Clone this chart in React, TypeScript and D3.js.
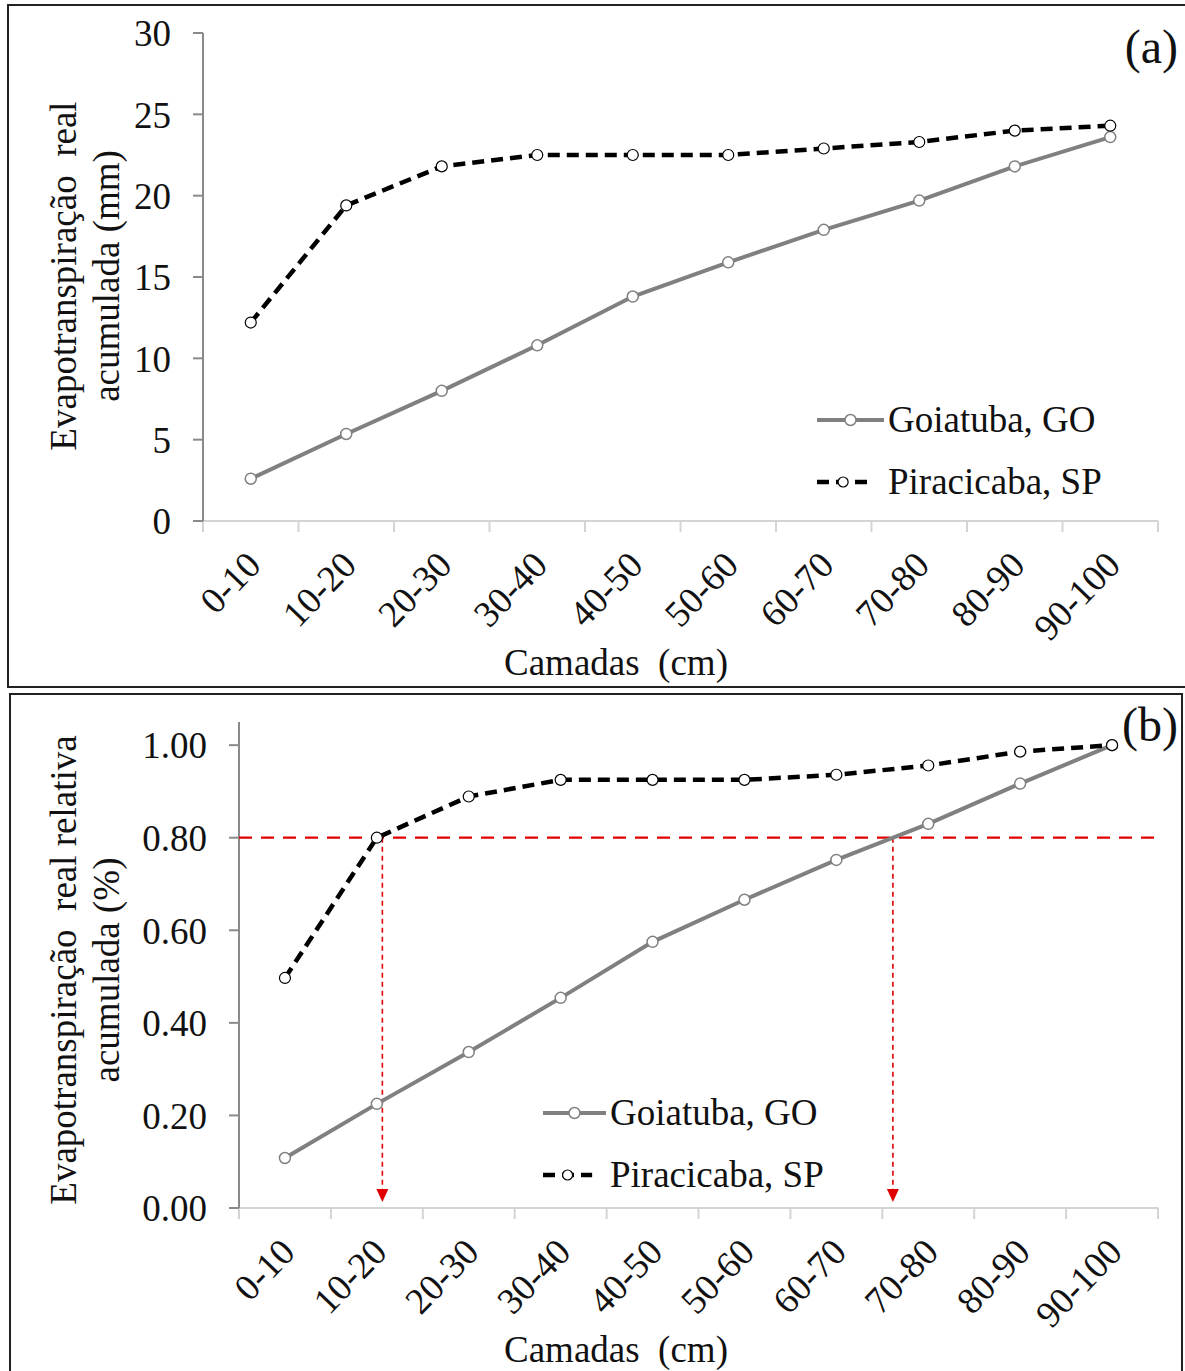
import React, { useRef, useEffect } from "react";
import * as d3 from "d3";

const layers = ["0-10", "10-20", "20-30", "30-40", "40-50", "50-60", "60-70", "70-80", "80-90", "90-100"];

// (a) evapotranspiração real acumulada (mm)
const goiatubaMm = [2.6, 5.35, 8.0, 10.8, 13.8, 15.9, 17.9, 19.7, 21.8, 23.6];
const piracicabaMm = [12.2, 19.4, 21.8, 22.5, 22.5, 22.5, 22.9, 23.3, 24.0, 24.3];

// (b) relativa acumulada
const goiatubaRel = [0.108, 0.225, 0.337, 0.454, 0.575, 0.666, 0.752, 0.83, 0.917, 1.0];
const piracicabaRel = [0.497, 0.8, 0.889, 0.925, 0.925, 0.925, 0.936, 0.956, 0.986, 1.0];

const ticksA = [0, 5, 10, 15, 20, 25, 30];
const ticksB = [0, 0.2, 0.4, 0.6, 0.8, 1.0];
const threshold = 0.8;

const FONT = "'Liberation Serif', 'Times New Roman', serif";
const GRAY = "#808080";

const W = 1185;
const H = 1371;

// interpolated index where a series reaches a value
function crossing(values, v) {
  for (let i = 0; i < values.length - 1; i++) {
    if (values[i] <= v && values[i + 1] >= v) {
      return i + (v - values[i]) / (values[i + 1] - values[i] || 1);
    }
  }
  return values.length - 1;
}

function drawPanel(svg, cfg) {
  const g = svg.append("g");
  const { box, left, right, yTop, yBottom, yDomain, ticks, fmt, goi, pir, label, titles, titleY, legend } = cfg;

  g.append("rect")
    .attr("x", box.x)
    .attr("y", box.y)
    .attr("width", box.w)
    .attr("height", box.h)
    .attr("fill", "white")
    .attr("stroke", "#222")
    .attr("stroke-width", 2);

  const x = d3.scaleLinear().domain([0, layers.length]).range([left, right]);
  const y = d3.scaleLinear().domain(yDomain).range([yBottom, yTop]);
  const cx = (i) => x(i + 0.5);

  // x axis
  g.append("line")
    .attr("x1", left)
    .attr("x2", right)
    .attr("y1", y(0))
    .attr("y2", y(0))
    .attr("stroke", "#d4d4d4")
    .attr("stroke-width", 2);
  g.selectAll(".xt")
    .data(d3.range(layers.length + 1))
    .join("line")
    .attr("x1", (d) => x(d))
    .attr("x2", (d) => x(d))
    .attr("y1", y(0))
    .attr("y2", y(0) + 11)
    .attr("stroke", "#d4d4d4")
    .attr("stroke-width", 2);

  g.selectAll(".xl")
    .data(layers)
    .join("text")
    .attr("transform", (d, i) => `translate(${cx(i) + 12},${y(0) + 46}) rotate(-46)`)
    .attr("text-anchor", "end")
    .attr("font-family", FONT)
    .attr("font-size", 37)
    .attr("fill", "#111")
    .text((d) => d);

  // y axis
  g.append("line")
    .attr("x1", left)
    .attr("x2", left)
    .attr("y1", y(yDomain[1]))
    .attr("y2", y(0))
    .attr("stroke", "#8a8a8a")
    .attr("stroke-width", 2);
  g.selectAll(".yt")
    .data(ticks)
    .join("line")
    .attr("x1", left - 10)
    .attr("x2", left)
    .attr("y1", (d) => y(d))
    .attr("y2", (d) => y(d))
    .attr("stroke", "#8a8a8a")
    .attr("stroke-width", 2);
  g.selectAll(".yl")
    .data(ticks)
    .join("text")
    .attr("x", left - 32)
    .attr("y", (d) => y(d))
    .attr("dy", "0.36em")
    .attr("text-anchor", "end")
    .attr("font-family", FONT)
    .attr("font-size", 37)
    .attr("fill", "#111")
    .text((d) => fmt(d));

  // titles
  titles.forEach((t, k) => {
    g.append("text")
      .attr("transform", `translate(${[76, 119][k]},${titleY}) rotate(-90)`)
      .attr("text-anchor", "middle")
      .attr("font-family", FONT)
      .attr("font-size", 37)
      .attr("fill", "#111")
      .style("white-space", "pre")
      .text(t);
  });
  g.append("text")
    .attr("x", 616)
    .attr("y", box.y + cfg.xTitleDy)
    .attr("text-anchor", "middle")
    .attr("font-family", FONT)
    .attr("font-size", 37)
    .attr("fill", "#111")
    .style("white-space", "pre")
    .text("Camadas  (cm)");

  g.append("text")
    .attr("x", 1178)
    .attr("y", cfg.labelY)
    .attr("text-anchor", "end")
    .attr("font-family", FONT)
    .attr("font-size", 48)
    .attr("fill", "#111")
    .text(label);

  if (cfg.annotate) {
    const yt = y(threshold);
    g.append("line")
      .attr("x1", left)
      .attr("x2", right + 2)
      .attr("y1", yt)
      .attr("y2", yt)
      .attr("stroke", "#e00000")
      .attr("stroke-width", 2.2)
      .attr("stroke-dasharray", "13,9");
    [crossing(pir, threshold) + 0.06, crossing(goi, threshold)].forEach((c) => {
      const xx = cx(c);
      g.append("line")
        .attr("x1", xx)
        .attr("x2", xx)
        .attr("y1", yt)
        .attr("y2", y(0) - 18)
        .attr("stroke", "#e00000")
        .attr("stroke-width", 1.6)
        .attr("stroke-dasharray", "5,4");
      g.append("path")
        .attr("d", `M${xx - 6},${y(0) - 19} L${xx + 6},${y(0) - 19} L${xx},${y(0) - 6} Z`)
        .attr("fill", "#e00000");
    });
  }

  const line = d3
    .line()
    .x((d, i) => cx(i))
    .y((d) => y(d));

  g.append("path")
    .attr("d", line(goi))
    .attr("fill", "none")
    .attr("stroke", GRAY)
    .attr("stroke-width", 4);
  g.append("path")
    .attr("d", line(pir))
    .attr("fill", "none")
    .attr("stroke", "#000")
    .attr("stroke-width", 4.5)
    .attr("stroke-dasharray", "12,7");

  g.selectAll(".mg")
    .data(goi)
    .join("circle")
    .attr("cx", (d, i) => cx(i))
    .attr("cy", (d) => y(d))
    .attr("r", 5.5)
    .attr("fill", "white")
    .attr("stroke", GRAY)
    .attr("stroke-width", 1.5);
  g.selectAll(".mp")
    .data(pir)
    .join("circle")
    .attr("cx", (d, i) => cx(i))
    .attr("cy", (d) => y(d))
    .attr("r", 5.5)
    .attr("fill", "white")
    .attr("stroke", "#000")
    .attr("stroke-width", 1.2);

  // legend
  const { lx, ly, len } = legend;
  g.append("line")
    .attr("x1", lx)
    .attr("x2", lx + len)
    .attr("y1", ly)
    .attr("y2", ly)
    .attr("stroke", GRAY)
    .attr("stroke-width", 4);
  g.append("circle")
    .attr("cx", lx + len / 2)
    .attr("cy", ly)
    .attr("r", 5.5)
    .attr("fill", "white")
    .attr("stroke", GRAY)
    .attr("stroke-width", 1.5);
  g.append("line")
    .attr("x1", lx)
    .attr("x2", lx + len * 0.78)
    .attr("y1", ly + 62)
    .attr("y2", ly + 62)
    .attr("stroke", "#000")
    .attr("stroke-width", 4.5)
    .attr("stroke-dasharray", "12,7");
  g.append("circle")
    .attr("cx", lx + len * 0.39)
    .attr("cy", ly + 62)
    .attr("r", 5)
    .attr("fill", "white")
    .attr("stroke", "#000")
    .attr("stroke-width", 1.2);
  ["Goiatuba, GO", "Piracicaba, SP"].forEach((t, k) => {
    g.append("text")
      .attr("x", lx + len + 4)
      .attr("y", ly + k * 62 + 12)
      .attr("font-family", FONT)
      .attr("font-size", 37)
      .attr("fill", "#111")
      .text(t);
  });
}

const App = () => {
  const ref = useRef(null);

  useEffect(() => {
    d3.select(ref.current).selectAll("*").remove();
    const svg = d3.select(ref.current);
    svg.append("rect").attr("width", W).attr("height", H).attr("fill", "white");

    drawPanel(svg, {
      box: { x: 8, y: 5, w: 1178, h: 682 },
      left: 203,
      right: 1158,
      yTop: 33,
      yBottom: 521,
      yDomain: [0, 30],
      ticks: ticksA,
      fmt: d3.format("d"),
      goi: goiatubaMm,
      pir: piracicabaMm,
      label: "(a)",
      labelY: 63,
      titles: ["Evapotranspiração  real", "acumulada (mm)"],
      titleY: 276,
      xTitleDy: 670,
      legend: { lx: 817, ly: 420, len: 67 },
      annotate: false,
    });

    drawPanel(svg, {
      box: { x: 10, y: 694, w: 1172, h: 680 },
      left: 239,
      right: 1158,
      yTop: 722,
      yBottom: 1208,
      yDomain: [0, 1.05],
      ticks: ticksB,
      fmt: d3.format(".2f"),
      goi: goiatubaRel,
      pir: piracicabaRel,
      label: "(b)",
      labelY: 741,
      titles: ["Evapotranspiração  real relativa", "acumulada (%)"],
      titleY: 970,
      xTitleDy: 668,
      legend: { lx: 543, ly: 1113, len: 63 },
      annotate: true,
    });
  }, []);

  return (
    <svg
      ref={ref}
      width={W}
      height={H}
      style={{ position: "absolute", left: 0, top: 0, display: "block" }}
    />
  );
};

export default App;
